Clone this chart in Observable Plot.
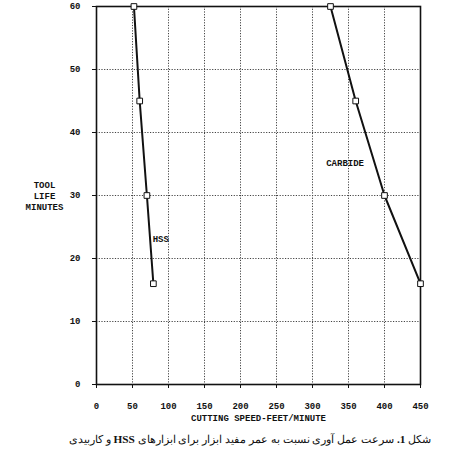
<!DOCTYPE html>
<html><head><meta charset="utf-8">
<script src="https://cdn.jsdelivr.net/npm/d3@7"></script>
<script src="https://cdn.jsdelivr.net/npm/@observablehq/plot@0.6"></script>
<style>
body{margin:0;background:#fff;}
#cap{width:392px;margin-left:54px;text-align:center;font-family:"Liberation Serif","DejaVu Serif",serif;font-size:11.3px;color:#111;margin-top:3px;white-space:nowrap;}
</style></head><body>
<div id="chart"></div>
<div id="cap" dir="rtl">شکل <b>1.</b> سرعت عمل آوری نسبت به عمر مفید ابزار برای ابزارهای <b>HSS</b> و کاربیدی</div>
<script>
const hssSpeed = [52, 60, 70, 79];
const hssLife = [60, 45, 30, 16];
const carbideSpeed = [325, 360, 400, 450];
const carbideLife = [60, 45, 30, 16];
const xTicks = [0, 50, 100, 150, 200, 250, 300, 350, 400, 450];
const yTicks = [0, 10, 20, 30, 40, 50, 60];
const labels = [
  {name: "HSS", x: 78, y: 23},
  {name: "CARBIDE", x: 319, y: 35.2}
];

const hss = hssSpeed.map((s, i) => ({x: s, y: hssLife[i]}));
const carb = carbideSpeed.map((s, i) => ({x: s, y: carbideLife[i]}));
const font = "Liberation Mono, DejaVu Sans Mono, monospace";

const plot = Plot.plot({
  width: 450,
  height: 430,
  marginLeft: 96,
  marginRight: 30,
  marginTop: 6,
  marginBottom: 46,
  style: {fontFamily: font, fontSize: "9px", fontWeight: "bold", color: "#111", background: "#fff"},
  x: {domain: [0, 450], ticks: xTicks, label: null},
  y: {domain: [0, 60], ticks: yTicks, label: null},
  marks: [
    Plot.ruleX(xTicks.filter(d => d > 0 && d < 450), {stroke: "#444", strokeDasharray: "1.2,1.5", strokeWidth: 1}),
    Plot.ruleY(yTicks.filter(d => d > 0 && d < 60), {stroke: "#444", strokeDasharray: "1.2,1.5", strokeWidth: 1}),
    Plot.frame({stroke: "#111", strokeWidth: 1.6}),
    Plot.axisX({ticks: xTicks, tickSize: 4, tickPadding: 14, fontWeight: "bold", fontSize: 9, stroke: "#111"}),
    Plot.axisY({ticks: yTicks, tickSize: 4, tickPadding: 12, fontWeight: "bold", fontSize: 9, stroke: "#111"}),
    Plot.text(["CUTTING SPEED-FEET/MINUTE"], {frameAnchor: "bottom", dy: 36, fontSize: 9, fontWeight: "bold"}),
    Plot.text(["TOOL\nLIFE\nMINUTES"], {frameAnchor: "left", y: 30, dx: -52, fontSize: 9, fontWeight: "bold", lineHeight: 1.2, textAnchor: "middle"}),
    Plot.line(hss, {x: "x", y: "y", stroke: "#111", strokeWidth: 2}),
    Plot.line(carb, {x: "x", y: "y", stroke: "#111", strokeWidth: 2}),
    Plot.dot(hss, {x: "x", y: "y", symbol: "square", r: 3.2, fill: "#fff", stroke: "#111", strokeWidth: 1}),
    Plot.dot(carb, {x: "x", y: "y", symbol: "square", r: 3.2, fill: "#fff", stroke: "#111", strokeWidth: 1}),
    Plot.text(labels, {x: "x", y: "y", text: "name", textAnchor: "start", fontSize: 9, fontWeight: "bold"})
  ]
});
document.getElementById("chart").appendChild(plot);
</script>
</body></html>
